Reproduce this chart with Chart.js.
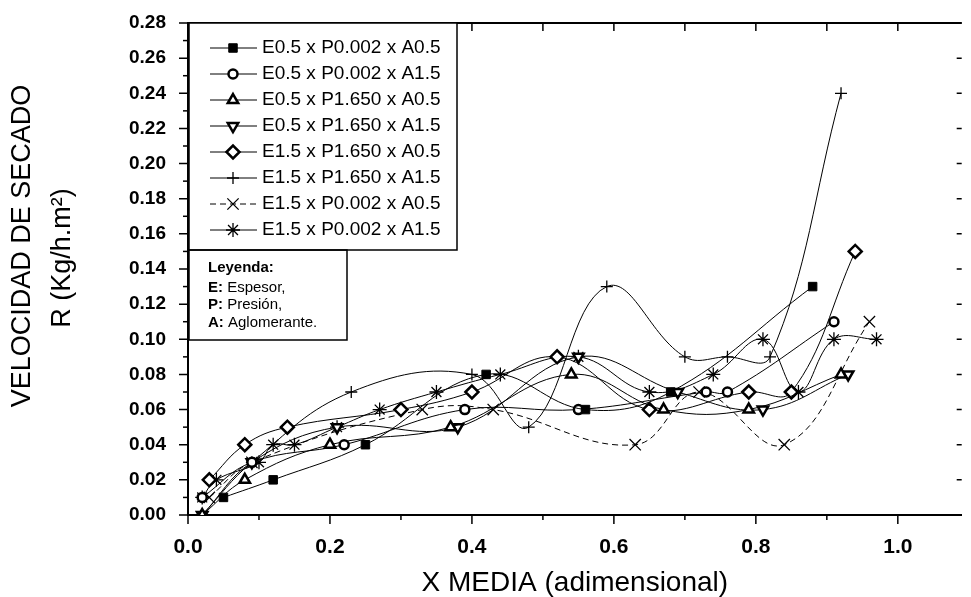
<!DOCTYPE html>
<html>
<head>
<meta charset="utf-8">
<script src="https://cdn.jsdelivr.net/npm/chart.js@4.4.0/dist/chart.umd.min.js"></script>
<style>
body { margin: 0; background: #fff; }
</style>
</head>
<body>
<canvas id="grafico" width="971" height="597"></canvas>
<script>
// valores
var sqX = [0.05, 0.12, 0.25, 0.42, 0.56, 0.68, 0.88];
var sqY = [0.01, 0.02, 0.04, 0.08, 0.06, 0.07, 0.13];

var circX = [0.02, 0.09, 0.22, 0.39, 0.55, 0.73, 0.76, 0.91];
var circY = [0.01, 0.03, 0.04, 0.06, 0.06, 0.07, 0.07, 0.11];

var triX = [0.02, 0.08, 0.20, 0.37, 0.54, 0.67, 0.79, 0.92];
var triY = [0.00, 0.02, 0.04, 0.05, 0.08, 0.06, 0.06, 0.08];

var invX = [0.02, 0.09, 0.21, 0.38, 0.55, 0.69, 0.81, 0.93];
var invY = [0.00, 0.03, 0.05, 0.05, 0.09, 0.07, 0.06, 0.08];

var diaX = [0.03, 0.08, 0.14, 0.30, 0.40, 0.52, 0.65, 0.79, 0.85, 0.94];
var diaY = [0.02, 0.04, 0.05, 0.06, 0.07, 0.09, 0.06, 0.07, 0.07, 0.15];

var plusX = [0.02, 0.09, 0.23, 0.40, 0.48, 0.59, 0.70, 0.76, 0.82, 0.92];
var plusY = [0.00, 0.03, 0.07, 0.08, 0.05, 0.13, 0.09, 0.09, 0.09, 0.24];

var cruzX = [0.03, 0.09, 0.33, 0.43, 0.63, 0.72, 0.84, 0.96];
var cruzY = [0.01, 0.03, 0.06, 0.06, 0.04, 0.07, 0.04, 0.11];

var astX = [0.02, 0.04, 0.10, 0.12, 0.15, 0.21, 0.27, 0.35, 0.44, 0.55, 0.65, 0.74, 0.81, 0.86, 0.91, 0.97];
var astY = [0.01, 0.02, 0.03, 0.04, 0.04, 0.05, 0.06, 0.07, 0.08, 0.09, 0.07, 0.08, 0.10, 0.07, 0.10, 0.10];

var nombres = ['E0.5 x P0.002 x A0.5', 'E0.5 x P0.002 x A1.5', 'E0.5 x P1.650 x A0.5', 'E0.5 x P1.650 x A1.5',
               'E1.5 x P1.650 x A0.5', 'E1.5 x P1.650 x A1.5', 'E1.5 x P0.002 x A0.5', 'E1.5 x P0.002 x A1.5'];

var xTicks = [0, 0.2, 0.4, 0.6, 0.8, 1.0];
var yTicks = [0, 0.02, 0.04, 0.06, 0.08, 0.10, 0.12, 0.14, 0.16, 0.18, 0.20, 0.22, 0.24, 0.26, 0.28];
var xMarcas = [0, 0.1, 0.2, 0.3, 0.4, 0.5, 0.6, 0.7, 0.8, 0.9, 1.0];
var yMarcas = [0, 0.01, 0.02, 0.03, 0.04, 0.05, 0.06, 0.07, 0.08, 0.09, 0.10, 0.11, 0.12, 0.13, 0.14,
               0.15, 0.16, 0.17, 0.18, 0.19, 0.20, 0.21, 0.22, 0.23, 0.24, 0.25, 0.26, 0.27, 0.28];

var tituloY = ['VELOCIDAD DE SECADO', 'R (Kg/h.m²)'];

var FUENTE = "'Liberation Sans', Arial, sans-serif";

var estilos = [
    { xs: sqX,   ys: sqY,   forma: 'rect',     radio: 6,   rot: 0,   fondo: '#000', bw: 1,   dash: [] },
    { xs: circX, ys: circY, forma: 'circle',   radio: 4.5, rot: 0,   fondo: '#fff', bw: 2.5, dash: [] },
    { xs: triX,  ys: triY,  forma: 'triangle', radio: 6,   rot: 0,   fondo: '#fff', bw: 2.5, dash: [] },
    { xs: invX,  ys: invY,  forma: 'triangle', radio: 6,   rot: 180, fondo: '#fff', bw: 2.5, dash: [] },
    { xs: diaX,  ys: diaY,  forma: 'rectRot',  radio: 6.5, rot: 0,   fondo: '#fff', bw: 2.5, dash: [] },
    { xs: plusX, ys: plusY, forma: 'cross',    radio: 6,   rot: 0,   fondo: '#fff', bw: 1.3, dash: [] },
    { xs: cruzX, ys: cruzY, forma: 'crossRot', radio: 8,   rot: 0,   fondo: '#fff', bw: 1.3, dash: [6, 4] },
    { xs: astX,  ys: astY,  forma: 'star',     radio: 7,   rot: 0,   fondo: '#fff', bw: 1.3, dash: [] }
];

var datasets = estilos.map(function (s, k) {
    return {
        label: nombres[k],
        data: s.xs.map(function (x, i) { return { x: x, y: s.ys[i] }; }),
        showLine: true,
        tension: 0.4,
        borderColor: '#000',
        borderWidth: 1,
        borderDash: s.dash,
        pointStyle: s.forma,
        pointRadius: s.radio,
        pointRotation: s.rot,
        pointBackgroundColor: s.fondo,
        pointBorderColor: '#000',
        pointBorderWidth: s.bw,
        fill: false
    };
});

// marcas de los ejes (hacia fuera abajo/izq, hacia dentro arriba/der)
var marcas = {
    id: 'marcas',
    afterDraw: function (chart) {
        var ctx = chart.ctx, a = chart.chartArea;
        var sx = chart.scales.x, sy = chart.scales.y;
        ctx.save();
        ctx.strokeStyle = '#000';
        ctx.lineWidth = 2;
        ctx.beginPath();
        ctx.moveTo(a.left, a.top);
        ctx.lineTo(a.right, a.top);
        ctx.stroke();
        ctx.lineWidth = 1.5;
        xMarcas.forEach(function (v, i) {
            var px = sx.getPixelForValue(v);
            var largo = i % 2 === 0 ? 9 : 5;
            ctx.beginPath();
            ctx.moveTo(px, a.bottom);
            ctx.lineTo(px, a.bottom + largo);
            ctx.moveTo(px, a.top);
            ctx.lineTo(px, a.top + 8);
            ctx.stroke();
        });
        yMarcas.forEach(function (v, i) {
            var py = sy.getPixelForValue(v);
            var largo = i % 2 === 0 ? 9 : 5;
            ctx.beginPath();
            ctx.moveTo(a.left - largo, py);
            ctx.lineTo(a.left, py);
            if (i % 2 === 0) {
                ctx.moveTo(a.right - 5, py);
                ctx.lineTo(a.right, py);
            }
            ctx.stroke();
        });

        // titulo del eje y, dos lineas giradas
        ctx.fillStyle = '#000';
        ctx.font = '27px ' + FUENTE;
        ctx.textAlign = 'center';
        ctx.textBaseline = 'middle';
        ctx.save();
        ctx.translate(23, 246);
        ctx.rotate(-Math.PI / 2);
        ctx.fillText(tituloY[0], 0, 0);
        ctx.restore();
        ctx.save();
        ctx.translate(63, 258);
        ctx.rotate(-Math.PI / 2);
        ctx.fillText(tituloY[1], 0, 0);
        ctx.restore();
        ctx.restore();
    }
};

var leyenda = {
    id: 'leyenda',
    afterDraw: function (chart) {
        var ctx = chart.ctx;
        ctx.save();
        ctx.fillStyle = '#fff';
        ctx.fillRect(189, 23, 268, 227);
        ctx.fillRect(189, 250, 158, 90);
        ctx.strokeStyle = '#000';
        ctx.lineWidth = 1.5;
        ctx.strokeRect(189, 23, 268, 227);
        ctx.strokeRect(189, 250, 158, 90);

        chart.data.datasets.forEach(function (d, i) {
            var y = 48 + 26 * i;
            ctx.strokeStyle = '#000';
            ctx.lineWidth = 1;
            ctx.setLineDash(d.borderDash);
            ctx.beginPath();
            ctx.moveTo(210, y);
            ctx.lineTo(257, y);
            ctx.stroke();
            ctx.setLineDash([]);
            ctx.fillStyle = d.pointBackgroundColor;
            ctx.lineWidth = d.pointBorderWidth;
            Chart.helpers.drawPoint(ctx, {
                pointStyle: d.pointStyle, radius: d.pointRadius,
                rotation: d.pointRotation, borderWidth: d.pointBorderWidth
            }, 233, y);
            ctx.fillStyle = '#000';
            ctx.font = '19px ' + FUENTE;
            ctx.textBaseline = 'middle';
            ctx.textAlign = 'left';
            ctx.fillText(d.label, 262, y);
        });

        ctx.fillStyle = '#000';
        ctx.textBaseline = 'middle';
        ctx.font = 'bold 15px ' + FUENTE;
        ctx.fillText('Leyenda:', 208, 268);
        var filas = [['E:', ' Espesor,', 288], ['P:', ' Presión,', 305], ['A:', ' Aglomerante.', 323]];
        filas.forEach(function (f) {
            ctx.font = 'bold 15px ' + FUENTE;
            ctx.fillText(f[0], 208, f[2]);
            var w = ctx.measureText(f[0]).width;
            ctx.font = '15px ' + FUENTE;
            ctx.fillText(f[1], 208 + w, f[2]);
        });
        ctx.restore();
    }
};

new Chart(document.getElementById('grafico'), {
    type: 'scatter',
    data: { datasets: datasets },
    options: {
        responsive: false,
        animation: false,
        devicePixelRatio: 1,
        layout: { padding: { top: 23, right: 0, bottom: 0, left: 0 } },
        plugins: { legend: { display: false }, tooltip: { enabled: false } },
        scales: {
            x: {
                type: 'linear',
                min: 0,
                max: 1.09,
                afterBuildTicks: function (s) { s.ticks = xTicks.map(function (v) { return { value: v }; }); },
                afterFit: function (s) { s.height = 82; s.paddingLeft = 0; s.paddingRight = 0; },
                ticks: {
                    callback: function (v) { return v.toFixed(1); },
                    font: { family: FUENTE, size: 21, weight: 'bold' },
                    color: '#000',
                    padding: 12,
                    maxRotation: 0,
                    autoSkip: false
                },
                grid: { display: false },
                border: { display: true, color: '#000', width: 2 },
                title: {
                    display: true,
                    text: 'X MEDIA (adimensional)',
                    color: '#000',
                    font: { family: FUENTE, size: 28, lineHeight: 1 },
                    padding: { top: 0, bottom: 0 }
                }
            },
            y: {
                min: 0,
                max: 0.28,
                afterBuildTicks: function (s) { s.ticks = yTicks.map(function (v) { return { value: v }; }); },
                afterFit: function (s) { s.width = 188; s.paddingTop = 0; s.paddingBottom = 0; },
                ticks: {
                    callback: function (v) { return v.toFixed(2); },
                    font: { family: FUENTE, size: 19, weight: 'bold' },
                    color: '#000',
                    padding: 14,
                    autoSkip: false
                },
                grid: { display: false },
                border: { display: true, color: '#000', width: 2 },
                title: { display: false }
            }
        }
    },
    plugins: [marcas, leyenda]
});
</script>
</body>
</html>
